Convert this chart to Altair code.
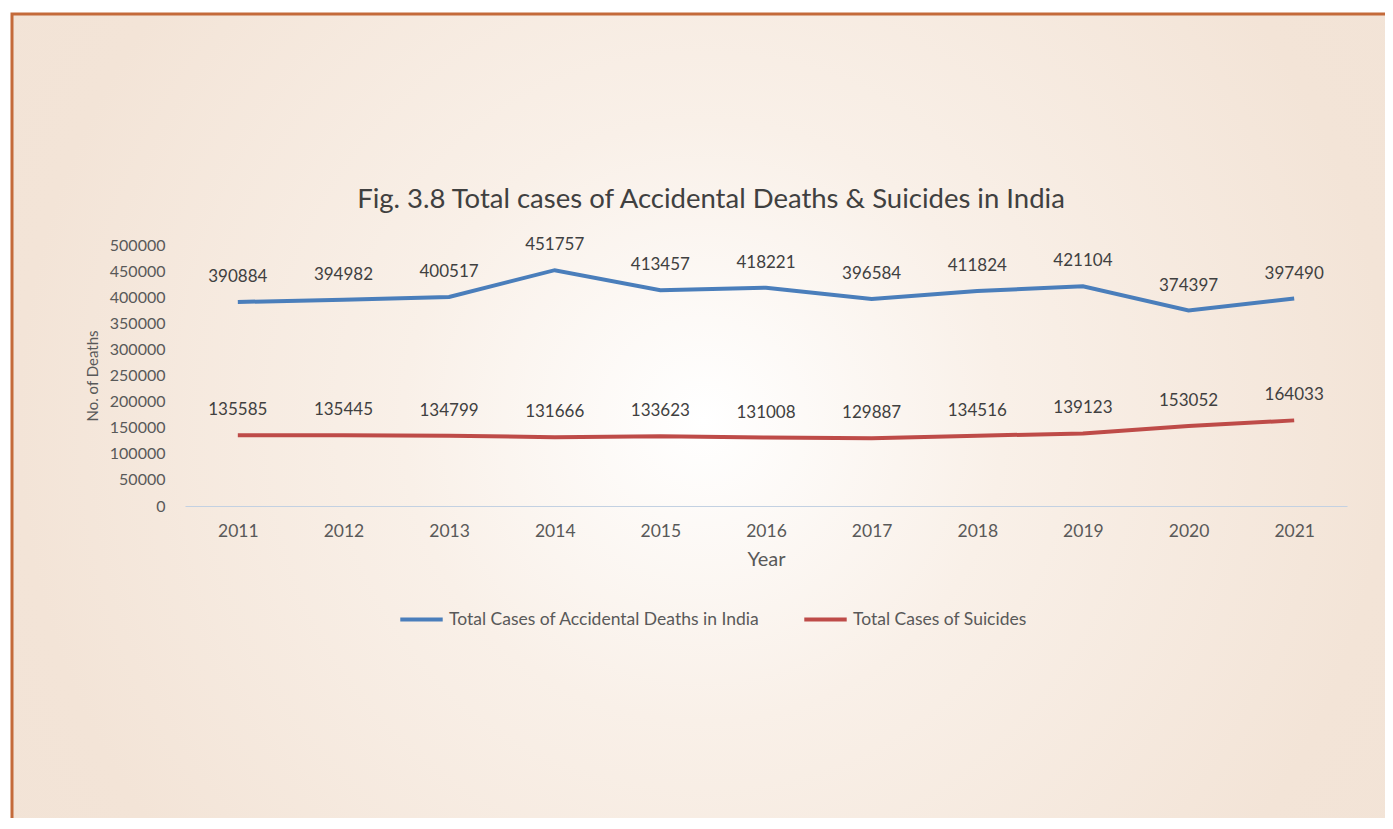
import altair as alt
import pandas as pd

years = ["2011", "2012", "2013", "2014", "2015", "2016", "2017", "2018", "2019", "2020", "2021"]
accidental = [390884, 394982, 400517, 451757, 413457, 418221, 396584, 411824, 421104, 374397, 397490]
suicides = [135585, 135445, 134799, 131666, 133623, 131008, 129887, 134516, 139123, 153052, 164033]
series_names = ["Total Cases of Accidental Deaths in India", "Total Cases of Suicides"]
series_colors = ["#4a7ebb", "#be4b48"]
y_ticks = [0, 50000, 100000, 150000, 200000, 250000, 300000, 350000, 400000, 450000, 500000]
title_text = ["Fig. 3.8 Total cases of Accidental Deaths & Suicides in India"]

rows = []
for y, a, s in zip(years, accidental, suicides):
    rows.append({"Year": y, "Series": series_names[0], "Deaths": a})
    rows.append({"Year": y, "Series": series_names[1], "Deaths": s})
df = pd.DataFrame(rows)

FONT = "Lato"
W, H = 1162, 261
PAD = {"left": 177, "top": 237, "right": 38, "bottom": 312}

bg = alt.Chart(pd.DataFrame({"k": [0]})).mark_rect(
    stroke="#c46a3a", strokeWidth=3,
    fill={"gradient": "radial", "x1": 0.5, "y1": 0.5, "x2": 0.5, "y2": 0.5,
          "r1": 0, "r2": 0.62,
          "stops": [{"offset": 0, "color": "#ffffff"},
                    {"offset": 0.35, "color": "#f9f0e8"},
                    {"offset": 0.8, "color": "#f3e4d7"},
                    {"offset": 1, "color": "#f2e3d6"}]}
).encode(
    x=alt.value(-173), x2=alt.value(W + PAD["right"] + 10),
    y=alt.value(-231), y2=alt.value(H + PAD["bottom"] + 10)
)

title = alt.Chart(pd.DataFrame({"t": title_text})).mark_text(
    fontSize=27.5, font=FONT, color="#404040", baseline="middle", align="center"
).encode(text="t:N", x=alt.value(526), y=alt.value(-45))

x_enc = alt.X("Year:O", scale=alt.Scale(type="point", padding=0.5, domain=years),
              axis=alt.Axis(title="Year", labelAngle=0, ticks=False, domainColor="#c3d1e2",
                            domainWidth=1, labelFontSize=17.5, labelColor="#595959",
                            labelPadding=16, titleFontSize=20, titleColor="#595959",
                            titleFontWeight="normal", titlePadding=10, labelFont=FONT,
                            titleFont=FONT, zindex=1))
y_enc = alt.Y("Deaths:Q", scale=alt.Scale(domain=[0, 500000], nice=False),
              axis=alt.Axis(title="No. of Deaths", values=y_ticks, format="d", ticks=False,
                            domain=False, grid=False, labelFontSize=16, labelColor="#595959",
                            labelPadding=20, labelFont=FONT, titleFont=FONT, labelOverlap=False,
                            titleFontSize=15, titleColor="#595959", titleFontWeight="normal",
                            titleAngle=-90, titleX=-93, titleY=H / 2,
                            titleAlign="center", titleBaseline="middle", zindex=1))
color_enc = alt.Color("Series:N", scale=alt.Scale(domain=series_names, range=series_colors),
                      legend=alt.Legend(title=None, orient="none", legendX=213, legendY=351,
                                        direction="horizontal", symbolType="stroke",
                                        symbolSize=1800, symbolStrokeWidth=4,
                                        labelFontSize=17.5, labelColor="#595959",
                                        labelFont=FONT, columnPadding=36, labelOffset=4,
                                        labelLimit=0, zindex=1))

lines = alt.Chart(df).mark_line(strokeWidth=4).encode(
    x=x_enc, y=y_enc, color=color_enc, order=alt.Order("Year:O"))

labels = alt.Chart(df).mark_text(dy=-25, fontSize=17, font=FONT, color="#404040",
                                 baseline="middle").encode(
    x=x_enc, y=y_enc,
    text=alt.Text("Deaths:Q", format="d"))

chart = alt.layer(bg, title, lines, labels).properties(
    width=W, height=H,
    autosize=alt.AutoSizeParams(type="none"),
    padding=PAD,
    background="#ffffff",
).configure_view(stroke=None)

chart.save("out.html", embed_options={"renderer": "svg", "actions": False})
